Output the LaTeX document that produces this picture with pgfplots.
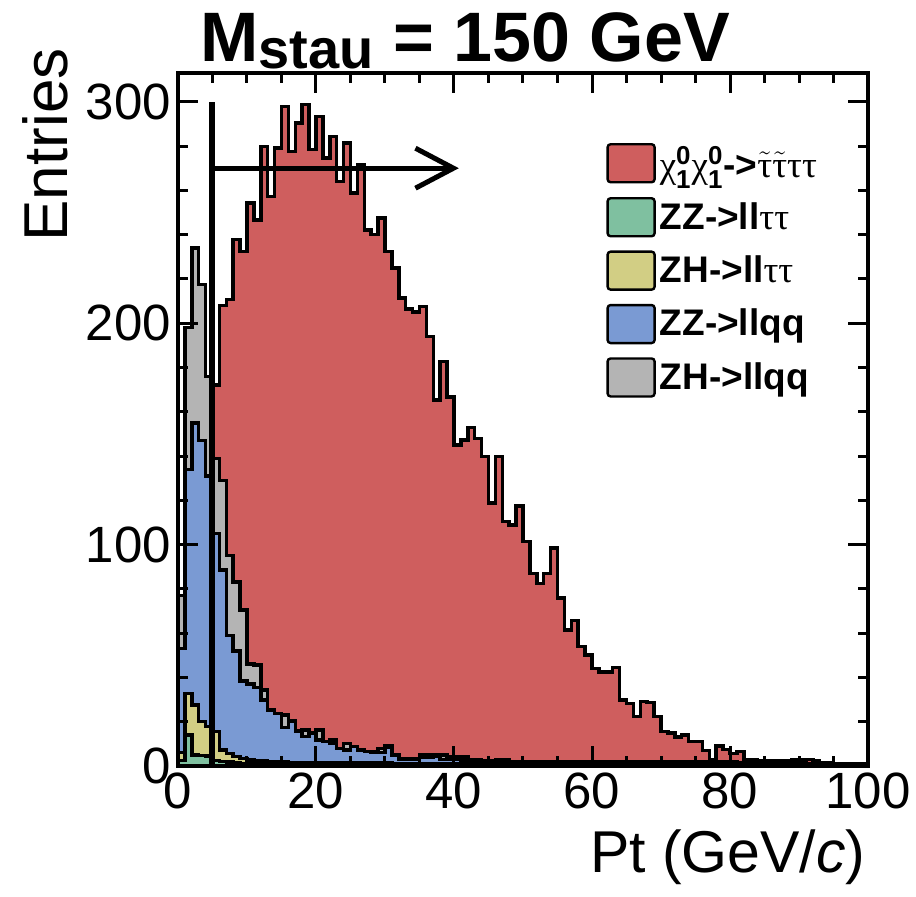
\documentclass[border=0pt]{standalone}
\usepackage{pgfplots}
\pgfplotsset{compat=1.18}
\usepackage{pgfplotstable}
\usepackage{amsmath}
\usepackage{fontspec}
\setmainfont{Liberation Sans}
\newfontfamily\sym{Liberation Serif}
\usetikzlibrary{arrows.meta}
\definecolor{cred}{RGB}{207,94,94}
\definecolor{cgreen}{RGB}{127,192,160}
\definecolor{cyellow}{RGB}{210,206,132}
\definecolor{cblue}{RGB}{122,154,211}
\definecolor{cgray}{RGB}{180,180,180}
\newcommand\gr[1]{{\sym\mdseries #1}}
\pgfplotstableread{
x tot gc bc yc gr
0 77 77 53 6 2.5
1 198 198 134 32.8 14
2 234 234 155 27.6 5
3 217.5 217.5 147 20 4.7
4 176 176 131 17.8 4.5
5 172 139 105 15.5 2.5
6 208 129 88.6 7.2 2
7 210.6 95 59 5.7 1.8
8 237.7 83 52 4.2 1.5
9 232.4 70.5 38.5 3.5 1.2
10 254.3 46 37 2.7 1
11 246.7 45.6 35.5 2.5 1
12 279.9 34.3 29.8 2.2 1
13 257.3 25.5 25.3 2 1
14 279.1 23.8 23.8 2 1
15 297.9 23 17.5 1.8 1
16 277.6 20.5 20 1.5 1
17 290.4 16 15.5 1.5 1
18 298.7 16.3 13.3 1.5 1
19 278.4 14.8 14.8 1.5 1
20 293.4 16.3 11.7 1.5 1
21 274.6 11 11 1.5 1
22 284.4 11.7 10.2 1.5 1
23 264 8 8 1.5 1
24 281.4 10.2 7.2 1.5 1
25 258.8 8.7 8.7 1.5 1
26 271.6 7.2 7.2 1.5 1
27 242 6.5 6.5 1.5 1
28 240 6.4 6 1.5 1
29 247.5 8 6 1.5 1
30 232.4 9 8.5 1.5 1
31 225 5 5 1 0.6
32 211.3 3.5 3 1 0.6
33 206.5 3.5 3 1 0.6
34 205 3.5 3 1 0.6
35 207.6 5 4 1 0.6
36 194 5 4 1 0.6
37 165.4 5 4.5 1 0.6
38 182.7 5 3 1 0.6
39 166.6 4 3 1 0.6
40 145 4 3 1 0.6
41 147.3 4 2.5 1 0.6
42 152.9 3 2.5 1 0.6
43 148 3 2.5 1 0.6
44 139.8 2.5 2 1 0.6
45 118.7 2.5 1.5 1 0.6
46 139.8 3 1.5 1 0.6
47 110.4 3 1.5 1 0.6
48 108.9 2 1.5 1 0.6
49 117.5 2 1.5 1 0.6
50 101.4 2 1.5 1 0.6
51 87 2 1.5 1 0.6
52 82.5 2 1.5 1 0.6
53 87 2 1.5 1 0.6
54 98.4 2 1.5 1 0.6
55 75.8 2 1.5 1 0.6
56 61.5 2 1.5 1 0.6
57 65.7 2 1.5 1 0.6
58 53.9 2 1.5 1 0.6
59 50.2 2 1.5 1 0.6
60 44 2 1.5 1 0.6
61 42.5 2 1.5 1 0.6
62 42.5 2 1.5 1 0.6
63 44.6 2 1.5 1 0.6
64 29.8 2 1.5 1 0.6
65 28.3 2 1.5 1 0.6
66 22.3 2 1.5 1 0.6
67 29.1 2 1.5 1 0.6
68 28.6 2 1.5 1 0.6
69 22.3 2 1.5 1 0.6
70 15.5 2 1.5 1 0.6
71 14.8 2 1.5 1 0.6
72 13 2 1.5 1 0.6
73 14 2 1.5 1 0.6
74 11 2 1.5 1 0.6
75 11 2 1.5 1 0.6
76 6.9 2 1.5 1 0.6
77 2.7 2 1.5 1 0.6
78 9 2 1.5 1 0.6
79 7.5 2 1.5 1 0.6
80 5.7 2 1.5 1 0.6
81 6.5 1.5 0.8 0.5 0.3
82 2.7 1.5 0.8 0.5 0.3
83 3 1.5 0.8 0.5 0.3
84 2.4 1.5 0.8 0.5 0.3
85 2.4 1.5 0.8 0.5 0.3
86 2.4 1.5 0.8 0.5 0.3
87 2.4 1.5 0.8 0.5 0.3
88 2.4 1.5 0.8 0.5 0.3
89 3 1.5 0.8 0.5 0.3
90 3 1.5 0.8 0.5 0.3
91 3 0.8 0.6 0.4 0.2
92 2.4 0.8 0.6 0.4 0.2
93 1.5 0.8 0.6 0.4 0.2
94 1.5 0.8 0.6 0.4 0.2
95 1.2 0.8 0.6 0.4 0.2
96 0.8 0.8 0.6 0.4 0.2
97 0.8 0.8 0.6 0.4 0.2
98 0.8 0.8 0.6 0.4 0.2
99 0.8 0.8 0.6 0.4 0.2
100 0.8 0.8 0.6 0.4 0.2
}\data
\begin{document}
\begin{tikzpicture}
\path[use as bounding box] (-89pt,-65pt) rectangle (369pt,383pt);
\begin{axis}[
  scale only axis, width=345pt, height=346.5pt,
  xmin=0, xmax=100, ymin=0, ymax=313,
  xtick={0,20,...,100}, ytick={0,100,200,300},
  minor x tick num=3, minor y tick num=4,
  tick align=inside, xtick pos=both, ytick pos=both,
  xticklabel pos=lower, yticklabel pos=left,
  major tick length=10pt, minor tick length=5pt,
  every tick/.style={black, line width=1.5pt},
  axis line style={line width=2pt},
  axis on top,
  tick label style={font=\fontsize{25.5}{30}\selectfont},
  /pgf/number format/assume math mode=true,
  title={M\raisebox{-0.1em}{\fontsize{28}{28}\selectfont stau} = 150 GeV},
  title style={at={(axis description cs:0.0319,0.9986)}, anchor=base west, font=\fontsize{35}{42}\selectfont\bfseries, inner sep=0pt},
  xlabel={Pt (GeV/\textit{c})},
  xlabel style={at={(axis description cs:0.997,-0.153)}, anchor=base east, font=\fontsize{29.5}{35}\selectfont, inner sep=0pt},
  ylabel={Entries},
  every axis y label/.style={at={(axis description cs:-0.1594,1.036)}, rotate=90, anchor=south east, font=\fontsize{31}{37}\selectfont, inner sep=0pt},
  legend cell align=left,
  legend style={at={(axis description cs:0.6203,0.9004)}, anchor=north west, draw=none, fill=none, font=\fontsize{18.5}{22}\selectfont\bfseries, row sep=6.5pt, inner sep=0pt},
  legend image code/.code={\draw[#1, draw=black, line width=1.2pt, rounded corners=1.5pt] (0pt,-9.5pt) rectangle (23.5pt,9.5pt);},
  every axis plot/.append style={line join=miter},
]
\addlegendimage{fill=cred}
\addlegendentry{\gr{χ}$^{\text{0}}_{\text{1}}$\gr{χ}$^{\text{0}}_{\text{1}}$->$\tilde{\text{\gr{τ}}}\tilde{\text{\gr{τ}}}$\gr{ττ}}
\addlegendimage{fill=cgreen}
\addlegendentry{ZZ->ll\gr{ττ}}
\addlegendimage{fill=cyellow}
\addlegendentry{ZH->ll\gr{ττ}}
\addlegendimage{fill=cblue}
\addlegendentry{ZZ->llqq}
\addlegendimage{fill=cgray}
\addlegendentry{ZH->llqq}

\addplot[forget plot, const plot, fill=cred, draw=black, line width=1.75pt] table[x=x,y=tot]{\data} \closedcycle;
\addplot[forget plot, const plot, fill=cgray, draw=black, line width=1.75pt] table[x=x,y=gc]{\data} \closedcycle;
\addplot[forget plot, const plot, fill=cblue, draw=black, line width=1.75pt] table[x=x,y=bc]{\data} \closedcycle;
\addplot[forget plot, const plot, fill=cyellow, draw=black, line width=1.75pt] table[x=x,y=yc]{\data} \closedcycle;
\addplot[forget plot, const plot, fill=cgreen, draw=black, line width=1.75pt] table[x=x,y=gr]{\data} \closedcycle;

\addplot[forget plot, black, line width=3pt] coordinates {(5,0) (5,300)};
\addplot[forget plot, black, line width=2.5pt, -{Straight Barb[length=19pt,width=20pt]}] coordinates {(5,270) (40.7,270)};
\end{axis}
\end{tikzpicture}
\end{document}
